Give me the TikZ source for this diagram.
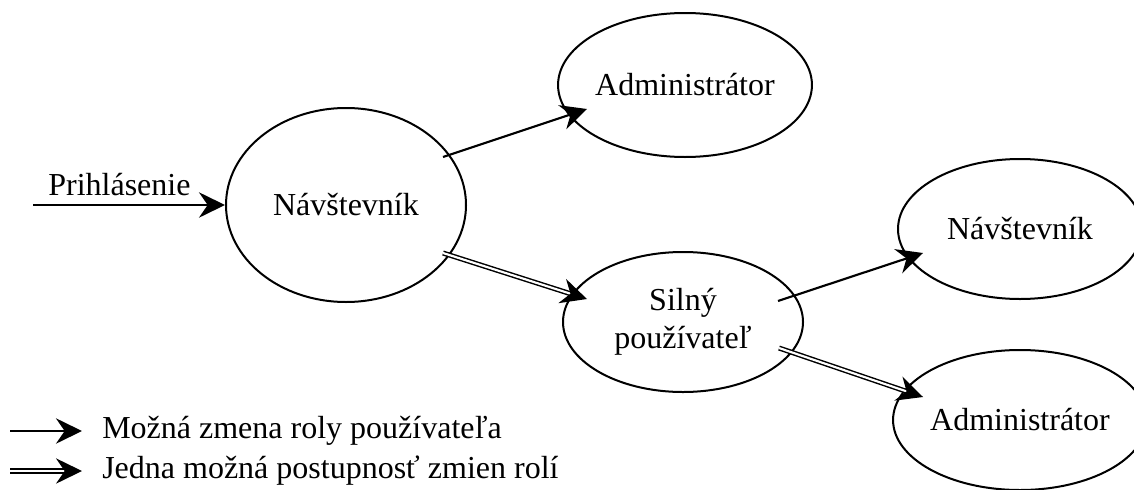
\documentclass[tikz,border=0pt]{standalone}
\usepackage{fontspec}
\setmainfont{Liberation Serif}
\usetikzlibrary{arrows.meta,calc,shapes.geometric}
\begin{document}
\begin{tikzpicture}[x=0.75pt, y=-0.75pt,
  every node/.style={font=\fontsize{24}{28.5}\selectfont},
  role/.style={ellipse, draw, line width=1.5pt, inner sep=0pt, align=center},
  tip/.style={-{Stealth[length=19.5pt, width=19pt, inset=6.5pt]}},
  change/.style={tip, line width=1.6pt},
  path/.style={tip, double, line width=1.1pt, double distance=1.6pt}]
  \useasboundingbox (0,0) rectangle (1134,489);

  % role states
  \node[role, minimum width=180pt, minimum height=145.5pt] (nav1) at (346,205) {Návštevník};
  \node[role, minimum width=183pt, minimum height=108pt] (adm1) at (685,85) {Administrátor};
  \node[role, minimum width=180pt, minimum height=105pt] (silny) at (683,322) {Silný\\používateľ};
  \node[role, minimum width=183pt, minimum height=105pt] (nav2) at (1020,229) {Návštevník};
  \node[role, minimum width=183pt, minimum height=105pt] (adm2) at (1020,420) {Administrátor};

  % login entry
  \coordinate (login) at (33,205);
  \draw[change] (login) -- node[pos=0.45, above=6pt, inner sep=0pt] {Prihlásenie} (nav1.west);

  % possible role changes
  \draw[change] ($(nav1.center)+(97,-48)$) -- ($(adm1.center)+(-98,24)$);
  \draw[change] ($(silny.center)+(95,-21)$) -- ($(nav2.center)+(-97,24)$);

  % one possible sequence of changes
  \draw[path] ($(nav1.center)+(97,48)$) -- ($(silny.center)+(-96,-23)$);
  \draw[path] ($(silny.center)+(96,26)$) -- ($(adm2.center)+(-97,-23)$);

  % legend
  \coordinate (l1a) at (10,431);
  \coordinate (l1b) at (82,431);
  \coordinate (l2a) at (10,471);
  \coordinate (l2b) at (82,471);
  \draw[change] (l1a) -- (l1b);
  \draw[path] (l2a) -- (l2b);
  \node[anchor=base west, inner sep=0pt] (leg1) at (102,438) {Možná zmena roly používateľa};
  \node[anchor=base west, inner sep=0pt] (leg2) at (102,478) {Jedna možná postupnosť zmien rolí};
\end{tikzpicture}
\end{document}
